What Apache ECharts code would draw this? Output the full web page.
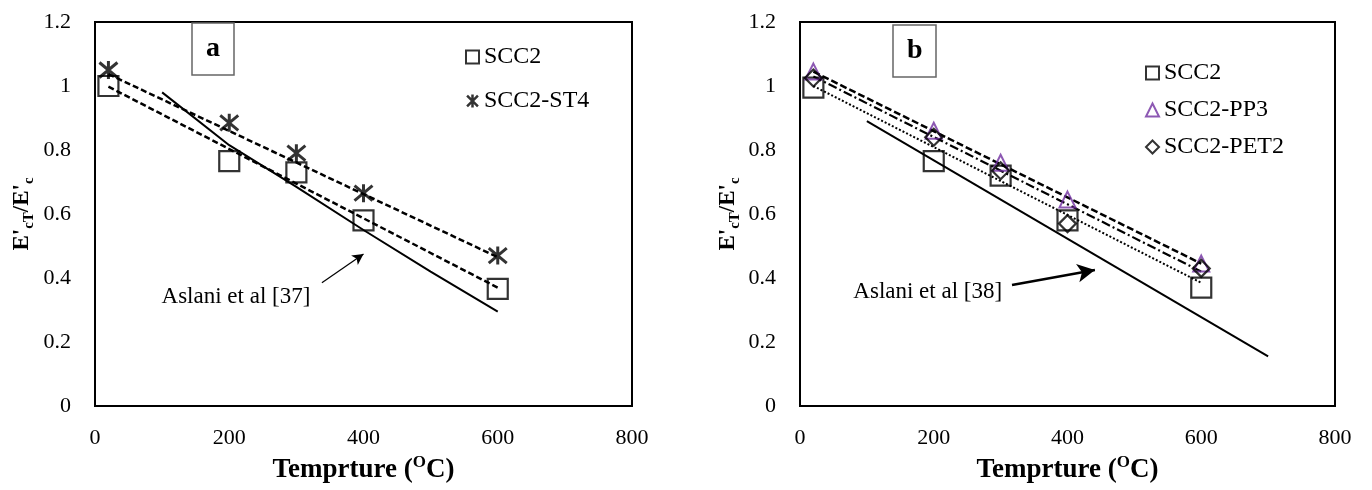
<!DOCTYPE html>
<html>
<head>
<meta charset="utf-8">
<script src="https://cdn.jsdelivr.net/npm/echarts@6/dist/echarts.min.js"></script>
<style>html,body{margin:0;padding:0;background:#fff}#c{width:1372px;height:490px}</style>
</head>
<body>
<div id="c"></div>
<script>
// ---- data ----
const temps = [20, 200, 300, 400, 600];
const xTicks = [0, 200, 400, 600, 800];
const yTicks = [0, 0.2, 0.4, 0.6, 0.8, 1, 1.2];

// panel a
const scc2A = [1.0, 0.765, 0.73, 0.58, 0.366];
const st4A = [1.05, 0.885, 0.79, 0.665, 0.47];
const trendScc2A = [[20, 0.998], [600, 0.37]];
const trendSt4A = [[20, 1.037], [600, 0.465]];
const aslaniA = [[100, 0.98], [200, 0.815], [300, 0.685], [400, 0.55], [500, 0.42], [600, 0.295]];
const arrowA = [[338, 0.385], [400, 0.475]];
const noteA = {text: 'Aslani et al [37]', at: [210, 0.34]};

// panel b
const scc2B = [0.995, 0.765, 0.72, 0.58, 0.37];
const pp3B = [1.045, 0.86, 0.76, 0.645, 0.445];
const pet2B = [1.025, 0.84, 0.735, 0.57, 0.43];
const trendPp3B = [[20, 1.045], [600, 0.445]];
const trendPet2B = [[20, 1.03], [600, 0.42]];
const trendScc2B = [[20, 1.0], [600, 0.385]];
const aslaniB = [[100, 0.89], [700, 0.155]];
const arrowB = [[317, 0.378], [441, 0.425]];
const noteB = {text: 'Aslani et al [38]', at: [191, 0.356]};

// ---- styling ----
const SERIF = '"Liberation Serif", "Times New Roman", serif';
const PURPLE = '#7030A0';
const ASTER = 'path://M0,0L10,10M10,0L0,10M5,-1L5,11';
const pair = (xs, ys) => xs.map((x, i) => [x, ys[i]]);

const grids = [
  {left: 95, top: 22, width: 537, height: 384},
  {left: 800, top: 22, width: 535, height: 384}
];

const yName = {
  rich: {
    e: {fontFamily: SERIF, fontWeight: 'bold', fontSize: 23, lineHeight: 30, verticalAlign: 'middle', color: '#000'},
    s: {fontFamily: SERIF, fontWeight: 'bold', fontSize: 15, lineHeight: 30, verticalAlign: 'bottom', color: '#000'}
  }
};
const xName = {
  rich: {
    a: {fontFamily: SERIF, fontWeight: 'bold', fontSize: 27, lineHeight: 32, verticalAlign: 'middle', color: '#000'},
    o: {fontFamily: SERIF, fontWeight: 'bold', fontSize: 17, lineHeight: 32, verticalAlign: 'top', color: '#000'}
  }
};

function xAxis(i) {
  return {
    type: 'value', gridIndex: i, min: xTicks[0], max: xTicks[xTicks.length - 1], interval: 200,
    name: '{a|Temprture (}{o|O}{a|C)}', nameLocation: 'middle', nameGap: 48,
    nameTextStyle: xName,
    axisLine: {show: false}, axisTick: {show: false}, splitLine: {show: false},
    axisLabel: {fontFamily: SERIF, fontSize: 22, color: '#000', margin: 21}
  };
}
function yAxis(i) {
  return {
    type: 'value', gridIndex: i, min: yTicks[0], max: yTicks[yTicks.length - 1], interval: 0.2,
    name: "{e|E'}{s|cT}{e|/E'}{s|c}", nameLocation: 'middle', nameGap: i === 0 ? 58 : 57, nameRotate: 90,
    nameTextStyle: yName,
    axisLine: {show: false}, axisTick: {show: false}, splitLine: {show: false},
    axisLabel: {fontFamily: SERIF, fontSize: 22, color: '#000', margin: 24,
      formatter: v => String(+v.toFixed(1))}
  };
}

function trend(name, data, gi, type, width) {
  return {type: 'line', name: name, xAxisIndex: gi, yAxisIndex: gi, data: data,
    showSymbol: false, symbol: 'none', silent: true, z: 2,
    lineStyle: {color: '#000', width: width, type: type}};
}
function aslani(data, gi, arrow, w) {
  return {type: 'line', xAxisIndex: gi, yAxisIndex: gi, data: data, symbol: 'none', z: 2,
    lineStyle: {color: '#000', width: 2}, silent: true,
    markLine: {silent: true, symbol: ['none', 'arrow'], symbolSize: [w * 4 + 4, w * 5 + 5],
      label: {show: false}, lineStyle: {color: '#000', width: w, type: 'solid'},
      data: [[{coord: arrow[0]}, {coord: arrow[1]}]]}};
}
function scatter(name, data, gi, symbol, size, color, bw) {
  return {type: 'scatter', name: name, xAxisIndex: gi, yAxisIndex: gi, data: data,
    symbol: symbol, symbolSize: size, z: 5,
    itemStyle: {color: 'rgba(0,0,0,0)', borderColor: color, borderWidth: bw}};
}

const legendText = {fontFamily: SERIF, fontSize: 24, color: '#000'};
const option = {
  animation: false,
  backgroundColor: '#fff',
  grid: grids.map(g => Object.assign({show: true, borderColor: '#000', borderWidth: 2, backgroundColor: 'transparent'}, g)),
  xAxis: [xAxis(0), xAxis(1)],
  yAxis: [yAxis(0), yAxis(1)],
  title: [
    {text: 'a', left: 192, top: 23, padding: [12, 14, 12, 14], borderColor: '#666', borderWidth: 1.5,
      textStyle: {fontFamily: SERIF, fontWeight: 'bold', fontSize: 28, color: '#000'}},
    {text: 'b', left: 893, top: 25, padding: [12, 14, 12, 14], borderColor: '#666', borderWidth: 1.5,
      textStyle: {fontFamily: SERIF, fontWeight: 'bold', fontSize: 28, color: '#000'}}
  ],
  legend: [
    {left: 465, top: 45, orient: 'vertical', itemGap: 20, itemWidth: 13, itemHeight: 13, selectedMode: false,
      textStyle: legendText, padding: 0,
      data: [
        {name: 'SCC2', icon: 'rect', itemStyle: {color: 'rgba(0,0,0,0)', borderColor: '#000', borderWidth: 2}},
        {name: 'SCC2-ST4', icon: ASTER, itemStyle: {color: 'rgba(0,0,0,0)', borderColor: '#000', borderWidth: 2.5}}
      ]},
    {left: 1145, top: 61, orient: 'vertical', itemGap: 13, itemWidth: 13, itemHeight: 13, selectedMode: false,
      textStyle: legendText, padding: 0,
      data: [
        {name: 'SCC2 ', icon: 'rect', itemStyle: {color: 'rgba(0,0,0,0)', borderColor: '#000', borderWidth: 2}},
        {name: 'SCC2-PP3', icon: 'triangle', itemStyle: {color: 'rgba(0,0,0,0)', borderColor: PURPLE, borderWidth: 2}},
        {name: 'SCC2-PET2', icon: 'diamond', itemStyle: {color: 'rgba(0,0,0,0)', borderColor: '#000', borderWidth: 2}}
      ],
      formatter: n => n.trim()}
  ],
  series: [
    aslani(aslaniA, 0, arrowA, 1.2),
    trend('tA1', trendScc2A, 0, [6, 3], 2.5),
    trend('tA2', trendSt4A, 0, [6, 3], 2.5),
    scatter('SCC2', pair(temps, scc2A), 0, 'rect', 20, '#000', 2.2),
    scatter('SCC2-ST4', pair(temps, st4A), 0, ASTER, 18, '#000', 3),

    aslani(aslaniB, 1, arrowB, 2.5),
    trend('tB1', trendPp3B, 1, [7, 3], 2.5),
    trend('tB2', trendPet2B, 1, [9, 3, 2, 3], 2.2),
    trend('tB3', trendScc2B, 1, [2, 2], 2),
    scatter('SCC2 ', pair(temps, scc2B), 1, 'rect', 20, '#000', 2.2),
    scatter('SCC2-PP3', pair(temps, pp3B), 1, 'triangle', 16, PURPLE, 2),
    scatter('SCC2-PET2', pair(temps, pet2B), 1, 'diamond', 17, '#000', 2.2)
  ]
};

const chart = echarts.init(document.getElementById('c'), null, {renderer: 'canvas'});
chart.setOption(option);

// annotation texts placed through the axes' scales
function note(n, gi) {
  const p = chart.convertToPixel({xAxisIndex: gi, yAxisIndex: gi}, n.at);
  return {type: 'text', x: p[0], y: p[1], style: {text: n.text, fontFamily: SERIF, fontSize: 23,
    fill: '#000', align: 'center', verticalAlign: 'middle'}};
}
chart.setOption({graphic: [note(noteA, 0), note(noteB, 1)]});
</script>
</body>
</html>
